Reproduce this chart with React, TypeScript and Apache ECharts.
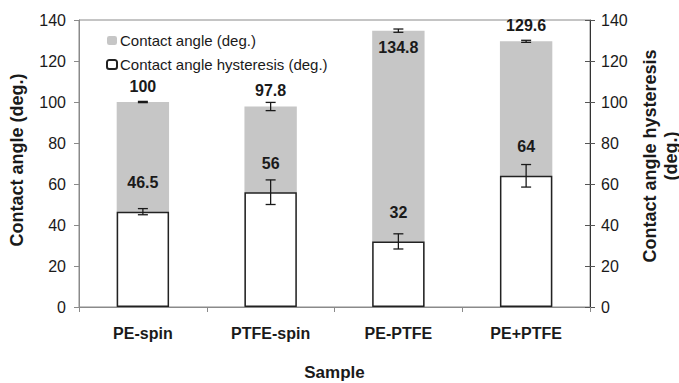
import React, { useEffect, useRef } from "react";
import * as echarts from "echarts";

const categories = ["PE-spin", "PTFE-spin", "PE-PTFE", "PE+PTFE"];
const contactAngle = [100, 97.8, 134.8, 129.6];
const contactAngleErr = [0.3, 2, 0.8, 0.5];
const hysteresis = [46.5, 56, 32, 64];
const hysteresisErr = [1.5, 6, 3.7, 5.5];
const yTicks = { min: 0, max: 140, interval: 20 };
const insideLabelIndex = [2]; // contact angle label drawn inside the bar

const FONT = "'Liberation Sans', Arial, sans-serif";
const TXT = "#1a1a1a";

export default function App() {
  const ref = useRef<HTMLDivElement>(null);
  useEffect(() => {
    if (!ref.current) return;
    const chart = echarts.init(ref.current, null, { renderer: "svg" });

    const errRender = (params: any, api: any) => {
      const i = api.value(0);
      const v = api.value(1);
      const e = api.value(2);
      const top = api.coord([i, v + e]);
      const bot = api.coord([i, v - e]);
      const hw = 5;
      const style = { stroke: "#1a1a1a", lineWidth: 1.3 };
      return {
        type: "group",
        children: [
          { type: "line", shape: { x1: top[0], y1: top[1], x2: bot[0], y2: bot[1] }, style },
          { type: "line", shape: { x1: top[0] - hw, y1: top[1], x2: top[0] + hw, y2: top[1] }, style },
          { type: "line", shape: { x1: bot[0] - hw, y1: bot[1], x2: bot[0] + hw, y2: bot[1] }, style },
        ],
      };
    };

    const caData = contactAngle.map((v, i) =>
      insideLabelIndex.includes(i)
        ? { value: v, label: { position: "insideTop", distance: 9 } }
        : v
    );

    chart.setOption({
      animation: false,
      textStyle: { fontFamily: FONT },
      grid: {
        left: 79,
        right: 89,
        top: 20,
        bottom: 76,
        show: true,
        borderColor: "#8a8a8a",
        borderWidth: 1,
        containLabel: false,
        outerBoundsMode: "none",
      },
      legend: {
        orient: "vertical",
        left: 101,
        top: 28,
        itemWidth: 10,
        itemHeight: 9,
        itemGap: 9,
        data: ["Contact angle (deg.)", "Contact angle hysteresis (deg.)"],
        textStyle: { fontFamily: FONT, fontSize: 15, color: TXT, padding: [0, 0, 0, -2] },
      },
      xAxis: {
        type: "category",
        data: categories,
        name: "Sample",
        nameLocation: "middle",
        nameGap: 57,
        nameTextStyle: { fontFamily: FONT, fontSize: 17, fontWeight: "bold", color: TXT },
        axisLine: { lineStyle: { color: "#8a8a8a", width: 1 } },
        axisTick: { show: true, length: 5, lineStyle: { color: "#8a8a8a" } },
        axisLabel: { fontFamily: FONT, fontSize: 16, fontWeight: "bold", color: TXT, margin: 18 },
      },
      yAxis: [
        {
          type: "value",
          ...yTicks,
          position: "left",
          splitLine: { show: false },
          axisLine: { show: true, lineStyle: { color: "#8a8a8a" } },
          axisTick: { show: true, length: 5, lineStyle: { color: "#8a8a8a" } },
          axisLabel: { fontFamily: FONT, fontSize: 16, color: TXT, margin: 13 },
        },
        {
          type: "value",
          ...yTicks,
          position: "right",
          splitLine: { show: false },
          axisLine: { show: true, lineStyle: { color: "#333" } },
          axisTick: { show: true, length: 5, lineStyle: { color: "#555" } },
          axisLabel: { fontFamily: FONT, fontSize: 16, color: TXT, margin: 11 },
        },
        {
          type: "value",
          ...yTicks,
          position: "right",
          splitLine: { show: false },
          axisLine: { show: false },
          axisTick: { show: true, inside: true, length: 5, lineStyle: { color: "#555" } },
          axisLabel: { show: false },
        },
      ],
      graphic: [
        {
          type: "text",
          x: 17,
          y: 160,
          rotation: Math.PI / 2,
          style: {
            text: "Contact angle (deg.)",
            fontFamily: FONT,
            fontSize: 18,
            fontWeight: "bold",
            fill: TXT,
            align: "center",
            verticalAlign: "middle",
          },
        },
        {
          type: "text",
          x: 660,
          y: 156,
          rotation: Math.PI / 2,
          style: {
            text: "Contact angle hysteresis\n(deg.)",
            fontFamily: FONT,
            fontSize: 18,
            lineHeight: 21,
            fontWeight: "bold",
            fill: TXT,
            align: "center",
            verticalAlign: "middle",
          },
        },
      ],
      series: [
        {
          name: "Contact angle (deg.)",
          type: "bar",
          data: caData,
          barWidth: "41%",
          barGap: "-100%",
          itemStyle: { color: "#c6c6c6" },
          label: {
            show: true,
            position: "top",
            distance: 8,
            fontFamily: FONT,
            fontSize: 16,
            fontWeight: "bold",
            color: TXT,
          },
          z: 1,
        },
        {
          name: "Contact angle hysteresis (deg.)",
          type: "bar",
          data: hysteresis,
          barWidth: "41%",
          barGap: "-100%",
          itemStyle: { color: "#ffffff", borderColor: "#222", borderWidth: 1.5 },
          label: {
            show: true,
            position: "top",
            distance: 21,
            fontFamily: FONT,
            fontSize: 16,
            fontWeight: "bold",
            color: TXT,
          },
          z: 2,
        },
        {
          type: "custom",
          name: "caErr",
          data: contactAngle.map((v, i) => [i, v, contactAngleErr[i]]),
          encode: { x: 0, y: 1 },
          renderItem: errRender,
          z: 5,
        },
        {
          type: "custom",
          name: "hErr",
          data: hysteresis.map((v, i) => [i, v, hysteresisErr[i]]),
          encode: { x: 0, y: 1 },
          renderItem: errRender,
          z: 5,
        },
      ],
    });
    return () => chart.dispose();
  }, []);
  return (
    <div
      ref={ref}
      style={{ position: "fixed", left: 0, top: 0, width: 679, height: 383, background: "#fff" }}
    />
  );
}
